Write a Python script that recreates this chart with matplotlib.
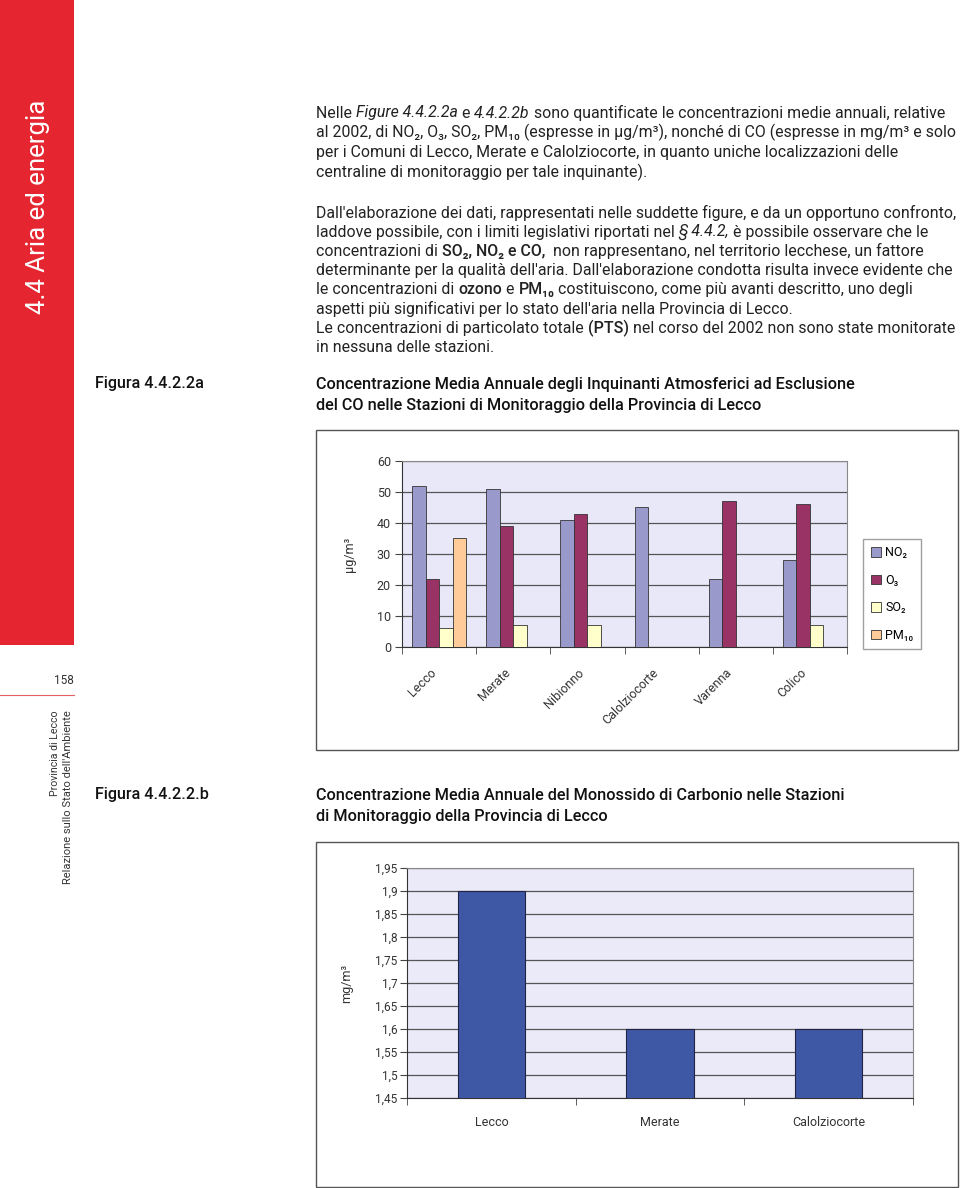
import matplotlib
matplotlib.use("Agg")
import matplotlib.pyplot as plt
from matplotlib.patches import Rectangle, Patch
import numpy as np

# chart a data (µg/m3)
stations_a = ["Lecco", "Merate", "Nibionno", "Calolziocorte", "Varenna", "Colico"]
no2 = [52, 51, 41, 45, 22, 28]
o3 = [22, 39, 43, 0, 47, 46]
so2 = [6, 7, 7, 0, 0, 7]
pm10 = [35, 0, 0, 0, 0, 0]
series_names = ["NO₂", "O₃", "SO₂", "PM₁₀"]
series_colors = ["#9999CC", "#993366", "#FFFFCC", "#FFCC99"]
yticks_a = [0, 10, 20, 30, 40, 50, 60]

# chart b data (mg/m3)
stations_b = ["Lecco", "Merate", "Calolziocorte"]
co = [1.9, 1.6, 1.6]
yticks_b = [1.45, 1.5, 1.55, 1.6, 1.65, 1.7, 1.75, 1.8, 1.85, 1.9, 1.95]

FONT = ["Roboto", "DejaVu Sans"]
plt.rcParams['font.family'] = FONT

W, H = 960, 1188
fig = plt.figure(figsize=(9.6, 11.88), dpi=100)
renderer = fig.canvas.get_renderer()

def fx(x):
    return x / W

def fy(y):
    return 1 - y / H

def box(x0, y0, x1, y1, **kw):
    fig.patches.append(Rectangle((fx(x0), fy(y1)), fx(x1) - fx(x0), fy(y0) - fy(y1),
                                 transform=fig.transFigure, zorder=-1, **kw))

def kw_for(st):
    if st == "i":
        return {"style": "italic"}
    if st == "b":
        return {"weight": "bold"}
    if st == "m":
        return {"weight": "medium"}
    return {}

def seg_width(segs, size):
    w = 0
    for s, st in segs:
        t = fig.text(0, 0, s, fontsize=size, **kw_for(st))
        w += t.get_window_extent(renderer).width
        t.remove()
    return w

def line(y, segs, size, color="#222222", x0=316):
    x = fx(x0)
    for s, st in segs:
        t = fig.text(x, fy(y), s, fontsize=size, ha="left", va="center",
                     color=color, **kw_for(st))
        x += t.get_window_extent(renderer).width / W

# sidebar
box(0, 0, 74, 645, facecolor="#E52631", edgecolor="none")
t = fig.text(fx(38), fy(207), "4.4 Aria ed energia", rotation=90, color="white",
             fontsize=16, ha="center", va="center")
h = t.get_window_extent(renderer).height
t.set_fontsize(16 * 215 / h)
fig.text(fx(74), fy(681), "158", fontsize=8.5, ha="right", va="center", color="#333333")
fig.add_artist(plt.Line2D([0, fx(74)], [fy(695), fy(695)], color="#E56060", lw=0.8,
                          transform=fig.transFigure))
fig.text(fx(55), fy(710), "Provincia di Lecco", rotation=90, fontsize=7.6,
         ha="center", va="top", color="#333333")
fig.text(fx(68), fy(710), "Relazione sullo Stato dell'Ambiente", rotation=90, fontsize=8,
         ha="center", va="top", color="#333333")

fsize = 10 * 108 / seg_width([("Figura 4.4.2.2a", "m")], 10)
line(383, [("Figura 4.4.2.2a", "m")], fsize, color="#111111", x0=95)
line(795, [("Figura 4.4.2.2.b", "m")], fsize, color="#111111", x0=95)

# body text
para1 = [
    [("Nelle ", "n"), ("Figure 4.4.2.2a", "i"), (" e ", "n"), ("4.4.2.2b", "i"),
     (" sono quantificate le concentrazioni medie annuali, relative", "n")],
    [("al 2002, di NO₂, O₃, SO₂, PM₁₀ (espresse in µg/m³), nonché di CO (espresse in mg/m³ e solo", "n")],
    [("per i Comuni di Lecco, Merate e Calolziocorte, in quanto uniche localizzazioni delle", "n")],
    [("centraline di monitoraggio per tale inquinante).", "n")],
]
para2 = [
    [("Dall'elaborazione dei dati, rappresentati nelle suddette figure, e da un opportuno confronto,", "n")],
    [("laddove possibile, con i limiti legislativi riportati nel ", "n"), ("§ 4.4.2,", "i"),
     (" è possibile osservare che le", "n")],
    [("concentrazioni di ", "n"), ("SO₂, NO₂ e CO,", "m"),
     ("  non rappresentano, nel territorio lecchese, un fattore", "n")],
    [("determinante per la qualità dell'aria. Dall'elaborazione condotta risulta invece evidente che", "n")],
    [("le concentrazioni di ", "n"), ("ozono", "m"), (" e ", "n"), ("PM₁₀", "m"),
     (" costituiscono, come più avanti descritto, uno degli", "n")],
    [("aspetti più significativi per lo stato dell'aria nella Provincia di Lecco.", "n")],
    [("Le concentrazioni di particolato totale ", "n"), ("(PTS)", "m"),
     (" nel corso del 2002 non sono state monitorate", "n")],
    [("in nessuna delle stazioni.", "n")],
]
body = 10 * 640 / seg_width(para2[0], 10)
for k, segs in enumerate(para1):
    line(113 + 19.7 * k, segs, body)
for k, segs in enumerate(para2):
    line(213 + 19.2 * k, segs, body)

# titles
titles_a = ["Concentrazione Media Annuale degli Inquinanti Atmosferici ad Esclusione",
            "del CO nelle Stazioni di Monitoraggio della Provincia di Lecco"]
titles_b = ["Concentrazione Media Annuale del Monossido di Carbonio nelle Stazioni",
            "di Monitoraggio della Provincia di Lecco"]
tsize = 10 * 536 / seg_width([(titles_a[0], "m")], 10)
for y, s in zip([385, 406], titles_a):
    line(y, [(s, "m")], tsize, color="#111111")
for y, s in zip([796, 816], titles_b):
    line(y, [(s, "m")], tsize, color="#111111")

# chart frames
box(316, 430, 958, 750, facecolor="white", edgecolor="#555555", lw=1.0)
box(316, 842, 958, 1187, facecolor="white", edgecolor="#555555", lw=1.0)

# chart a
ax = fig.add_axes([fx(402), fy(647), fx(847) - fx(402), fy(461) - fy(647)])
ax.set_facecolor("#E8E8F8")
n = len(stations_a)
xs = np.arange(n)
bw = 0.182
for i, (vals, c) in enumerate(zip([no2, o3, so2, pm10], series_colors)):
    v = np.array(vals, dtype=float)
    mask = v > 0
    ax.bar(xs[mask] + (i - 1.5) * bw, v[mask], width=bw, color=c,
           edgecolor="#333333", linewidth=0.6, zorder=3)
ax.set_xlim(-0.5, n - 0.5)
ax.set_ylim(0, 60)
ax.set_yticks(yticks_a)
ax.yaxis.grid(True, color="#555555", lw=0.9, zorder=1)
# labels sit a little left of the group centre, as in the original
ax.set_xticks(xs - 0.13)
ax.set_xticklabels(stations_a, rotation=45, ha="right", rotation_mode="anchor",
                   fontsize=9, color="#333333")
ax.set_xticks(np.arange(n + 1) - 0.5, minor=True)
ax.tick_params(axis="x", which="major", length=0, pad=14)
ax.tick_params(axis="x", which="minor", length=5, color="#444444")
ax.tick_params(axis="y", length=5, labelsize=9, color="#444444", pad=3, labelcolor="#333333")
for s in ["top", "right"]:
    ax.spines[s].set_color("#888888")
for s in ["left", "bottom"]:
    ax.spines[s].set_color("#333333")
ax.set_ylabel("µg/m³", fontsize=9, labelpad=15, color="#333333")
handles = [Patch(facecolor=c, edgecolor="#333333", lw=0.6) for c in series_colors]
fig.legend(handles, series_names, loc="upper left",
           bbox_to_anchor=(fx(863), fy(539)), bbox_transform=fig.transFigure,
           frameon=True, fancybox=False, edgecolor="#888888",
           prop={"family": FONT, "size": 9}, handlelength=0.8, handleheight=0.8,
           handletextpad=0.4, labelspacing=1.15, borderpad=0.6, borderaxespad=0)

# chart b
ax2 = fig.add_axes([fx(407), fy(1098), fx(913) - fx(407), fy(868) - fy(1098)])
ax2.set_facecolor("#EAEAF8")
xb = np.arange(len(stations_b))
ax2.bar(xb, co, width=0.4, color="#3F58A6", edgecolor="#222244", linewidth=0.8, zorder=3)
ax2.set_xlim(-0.5, len(stations_b) - 0.5)
ax2.set_ylim(1.45, 1.95)
ax2.set_yticks(yticks_b)
ax2.set_yticklabels([("%g" % v).replace(".", ",") for v in yticks_b])
ax2.yaxis.grid(True, color="#555555", lw=0.9, zorder=1)
ax2.set_xticks(xb)
ax2.set_xticklabels(stations_b, fontsize=9, color="#333333")
ax2.set_xticks(np.arange(len(stations_b) + 1) - 0.5, minor=True)
ax2.tick_params(axis="x", which="major", length=0, pad=13)
ax2.tick_params(axis="x", which="minor", length=5, color="#444444")
ax2.tick_params(axis="y", length=5, labelsize=8.5, color="#444444", pad=2, labelcolor="#333333")
for s in ["top", "right"]:
    ax2.spines[s].set_color("#888888")
for s in ["left", "bottom"]:
    ax2.spines[s].set_color("#333333")
ax2.set_ylabel("mg/m³", fontsize=9, labelpad=16, color="#333333")

fig.savefig("out.png", dpi=100)
